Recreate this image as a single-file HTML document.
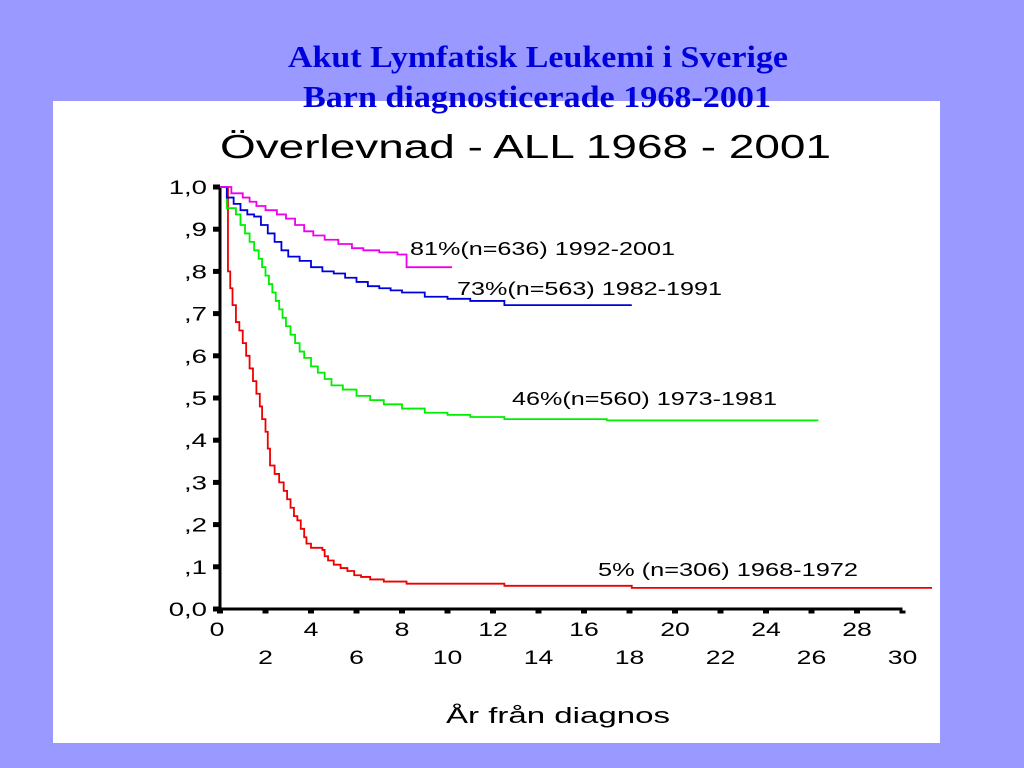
<!DOCTYPE html>
<html><head><meta charset="utf-8"><style>
body{margin:0;width:1024px;height:768px;background:#9999ff;overflow:hidden;position:relative;font-family:"Liberation Sans",sans-serif}
#panel{position:absolute;left:53px;top:101px;width:887px;height:642px;background:#fff}
svg{position:absolute;left:0;top:0}
</style></head><body>
<div id="panel"></div>
<svg id="c" width="1024" height="768">
<text x="288" y="67" textLength="500" lengthAdjust="spacingAndGlyphs" font-size="31" font-weight="bold" font-family="Liberation Serif" fill="#0000dd">Akut Lymfatisk Leukemi i Sverige</text>
<text x="303" y="107" textLength="468" lengthAdjust="spacingAndGlyphs" font-size="31" font-weight="bold" font-family="Liberation Serif" fill="#0000dd">Barn diagnosticerade 1968-2001</text>
<text x="220" y="158" textLength="611" lengthAdjust="spacingAndGlyphs" font-size="33" font-family="Liberation Sans" fill="#000">Överlevnad - ALL 1968 - 2001</text>
<text x="446" y="723" textLength="224" lengthAdjust="spacingAndGlyphs" font-size="22" font-family="Liberation Sans" fill="#000">År från diagnos</text>
</svg>
<script>
const xTicks=[0,2,4,6,8,10,12,14,16,18,20,22,24,26,28,30];
const yTicks=[0,0.1,0.2,0.3,0.4,0.5,0.6,0.7,0.8,0.9,1.0];
const yLabels=["0,0",",1",",2",",3",",4",",5",",6",",7",",8",",9","1,0"];
const redT=[0,0.3,0.35,0.45,0.55,0.7,0.85,1.0,1.15,1.3,1.45,1.6,1.75,1.85,2.0,2.1,2.2,2.4,2.6,2.8,2.95,3.1,3.25,3.4,3.55,3.7,3.8,4.0,4.5,4.6,4.75,5.0,5.3,5.6,5.9,6.2,6.6,7.2,8.2,12.5,18.1,31.3];
const redS=[1,1,0.80,0.76,0.72,0.68,0.66,0.63,0.60,0.57,0.54,0.51,0.48,0.45,0.42,0.38,0.34,0.32,0.30,0.28,0.26,0.24,0.22,0.21,0.19,0.17,0.155,0.145,0.14,0.125,0.115,0.105,0.097,0.09,0.08,0.076,0.07,0.065,0.06,0.055,0.05,0.05];
const greenT=[0,0.3,0.7,0.9,1.1,1.3,1.5,1.7,1.85,2.0,2.15,2.3,2.45,2.6,2.75,2.9,3.1,3.3,3.5,3.7,4.0,4.3,4.6,4.9,5.4,6.0,6.6,7.2,8.0,9.0,10.0,11.0,12.5,17.0,26.3];
const greenS=[1,0.95,0.935,0.91,0.89,0.87,0.85,0.83,0.81,0.79,0.77,0.75,0.73,0.71,0.69,0.67,0.65,0.63,0.61,0.595,0.575,0.56,0.545,0.53,0.52,0.505,0.495,0.485,0.475,0.465,0.46,0.455,0.45,0.447,0.447];
const blueT=[0,0.3,0.6,0.9,1.2,1.5,1.8,2.1,2.4,2.7,3.0,3.5,4.0,4.5,5.0,5.5,6.0,6.5,7.0,7.5,8.0,9.0,10.0,11.0,12.5,18.1];
const blueS=[1,0.975,0.96,0.945,0.935,0.93,0.91,0.89,0.87,0.85,0.835,0.825,0.81,0.80,0.795,0.785,0.775,0.765,0.76,0.755,0.75,0.74,0.735,0.73,0.72,0.72];
const magT=[0,0.5,1.0,1.3,1.6,2.0,2.5,2.9,3.3,3.7,4.1,4.6,5.2,5.8,6.3,7.0,7.8,8.2,10.2];
const magS=[1,0.985,0.975,0.965,0.955,0.945,0.935,0.925,0.91,0.895,0.885,0.875,0.865,0.855,0.85,0.845,0.84,0.81,0.81];
const series=[
 {t:redT,s:redS,c:"#ee0000",name:"curve-1968-1972",label:"5% (n=306) 1968-1972",lx:598,ly:576,w:260},
 {t:greenT,s:greenS,c:"#00ee00",name:"curve-1973-1981",label:"46%(n=560) 1973-1981",lx:512,ly:405,w:265},
 {t:blueT,s:blueS,c:"#0000dd",name:"curve-1982-1991",label:"73%(n=563) 1982-1991",lx:457,ly:295,w:265},
 {t:magT,s:magS,c:"#ee00ee",name:"curve-1992-2001",label:"81%(n=636) 1992-2001",lx:410,ly:255,w:265}];
const X=t=>220+t*22.75, Y=v=>609-v*422;
const svg=document.getElementById('c'),NS="http://www.w3.org/2000/svg";
function mk(tag,at){const e=document.createElementNS(NS,tag);for(const k in at)e.setAttribute(k,at[k]);svg.appendChild(e);return e;}
let ax=mk('path',{d:`M${X(0)} ${Y(1)}V${Y(0)}H${X(30)}`,stroke:"#000","stroke-width":3,fill:"none"});


yTicks.forEach((v,i)=>{
 const t=mk('line',{x1:213,x2:220,y1:Y(v),y2:Y(v),stroke:"#000","stroke-width":5});
 
 
 const l=mk('text',{x:207,y:Y(v)+7,"text-anchor":"end","font-size":19,fill:"#000",transform:`translate(207 0) scale(1.45 1) translate(-207 0)`});l.textContent=yLabels[i];
 
 
});
xTicks.forEach((v,i)=>{
 const t=mk('line',{x1:X(v)-3,x2:X(v)+3,y1:612,y2:612,stroke:"#000","stroke-width":3});
 
 
 const cx=X(v)-(v==0?3:0);
 const l=mk('text',{x:cx,y:(i%2==0)?636:664,"text-anchor":"middle","font-size":19,fill:"#000",transform:`translate(${cx} 0) scale(1.4 1) translate(${-cx} 0)`});l.textContent=v;
 
 
});
series.forEach(s=>{
 let d=`M${X(s.t[0])} ${Y(s.s[0])}`;
 for(let i=1;i<s.t.length;i++){d+=`H${X(s.t[i])}V${Y(s.s[i])}`;}
 const p=mk('path',{d:d,stroke:s.c,"stroke-width":1.8,fill:"none"});
 
 
 const l=mk('text',{x:s.lx,y:s.ly,"font-size":18,fill:"#000",textLength:s.w,lengthAdjust:"spacingAndGlyphs"});l.textContent=s.label;
 
 
});
</script>
</body></html>
